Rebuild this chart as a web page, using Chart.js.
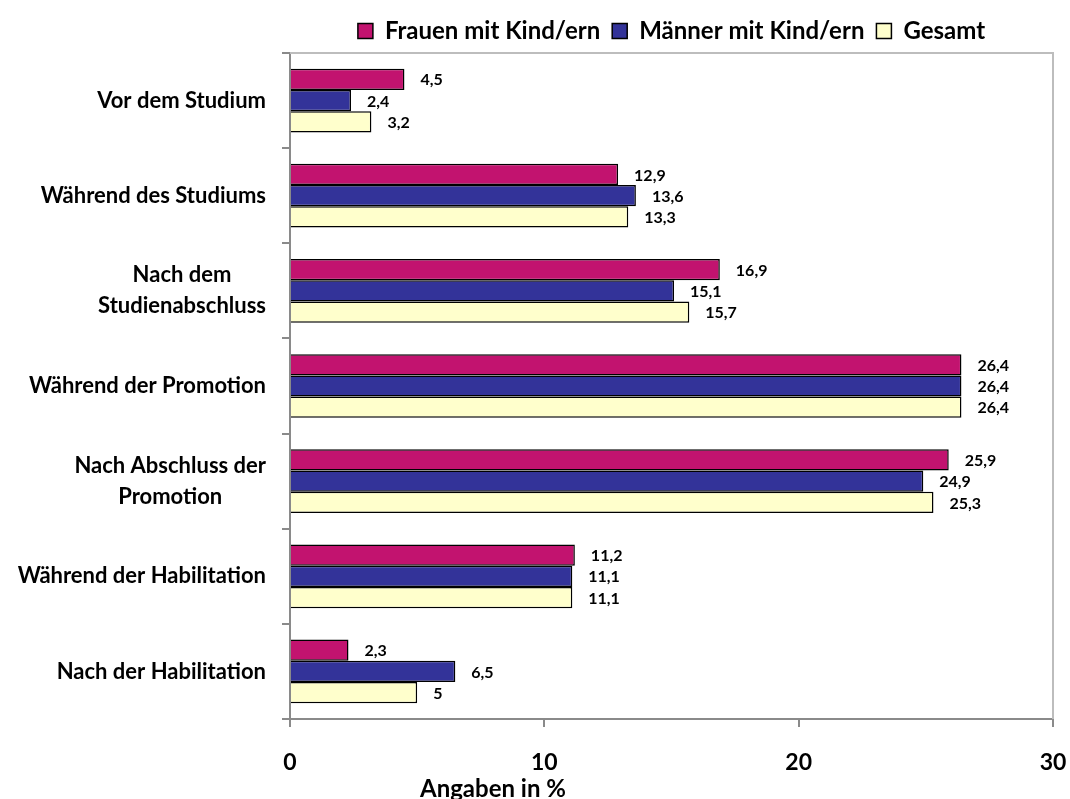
<!DOCTYPE html>
<html>
<head>
<meta charset="utf-8">
<script src="https://cdn.jsdelivr.net/npm/chart.js@4/dist/chart.umd.min.js"></script>
<style>
  html, body { margin: 0; padding: 0; background: #fff; }
  #wrap { width: 1070px; height: 799px; }
</style>
</head>
<body>
<div id="wrap"><canvas id="chart" width="1070" height="799"></canvas></div>
<script>
// categories (multi-line ones as arrays)
const categories = [
    'Vor dem Studium',
    'Während des Studiums',
    ['Nach dem', 'Studienabschluss'],
    'Während der Promotion',
    ['Nach Abschluss der', 'Promotion'],
    'Während der Habilitation',
    'Nach der Habilitation'
];
const seriesNames = ['Frauen mit Kind/ern', 'Männer mit Kind/ern', 'Gesamt'];
const frauen = [4.5, 12.9, 16.9, 26.4, 25.9, 11.2, 2.3];
const maenner = [2.4, 13.6, 15.1, 26.4, 24.9, 11.1, 6.5];
const gesamt = [3.2, 13.3, 15.7, 26.4, 25.3, 11.1, 5];
const xTicks = [0, 10, 20, 30];
const axisTitle = 'Angaben in %';

const colors = ['#C2136F', '#333399', '#FFFFCC'];
const FONT = 'Lato, "Open Sans", sans-serif';
const axisGrey = '#8a8a8a';

// values next to the bars
const valueLabels = {
    id: 'valueLabels',
    afterDatasetsDraw(chart) {
        const ctx = chart.ctx;
        ctx.save();
        ctx.font = 'bold 16px ' + FONT;
        ctx.fillStyle = '#000';
        ctx.textAlign = 'left';
        ctx.textBaseline = 'middle';
        chart.data.datasets.forEach((ds, i) => {
            const meta = chart.getDatasetMeta(i);
            meta.data.forEach((bar, j) => {
                const txt = String(ds.data[j]).replace('.', ',');
                ctx.fillText(txt, bar.x + 16, bar.y + 1);
            });
        });
        ctx.restore();
    }
};

// category labels: block right aligned, lines centred inside the block
const categoryLabels = {
    id: 'categoryLabels',
    afterDraw(chart) {
        const ctx = chart.ctx;
        const y = chart.scales.y;
        const rightEdge = chart.chartArea.left - 24;
        const lineH = 31;
        ctx.save();
        ctx.font = 'bold 22px ' + FONT;
        ctx.fillStyle = '#000';
        ctx.textAlign = 'center';
        ctx.textBaseline = 'middle';
        chart.data.labels.forEach((lab, i) => {
            const lines = Array.isArray(lab) ? lab : [lab];
            const w = Math.max(...lines.map(l => ctx.measureText(l).width));
            const cx = rightEdge - w / 2;
            const cy = y.getPixelForValue(i);
            lines.forEach((l, k) => {
                ctx.fillText(l, cx, cy + (k - (lines.length - 1) / 2) * lineH);
            });
        });
        ctx.restore();
    }
};

// plot frame (top + right) and the axis title
const frame = {
    id: 'frame',
    afterDraw(chart) {
        const ctx = chart.ctx;
        const a = chart.chartArea;
        ctx.save();
        ctx.strokeStyle = '#bdbdbd';
        ctx.lineWidth = 2;
        ctx.beginPath();
        ctx.moveTo(a.left, a.top);
        ctx.lineTo(a.right, a.top);
        ctx.lineTo(a.right, a.bottom);
        ctx.stroke();
        ctx.font = 'bold 24px ' + FONT;
        ctx.fillStyle = '#000';
        ctx.textAlign = 'center';
        ctx.textBaseline = 'middle';
        ctx.fillText(axisTitle, a.left + 203, a.bottom + 70);
        ctx.restore();
    }
};

new Chart(document.getElementById('chart'), {
    type: 'bar',
    data: {
        labels: categories,
        datasets: [
            { label: seriesNames[0], data: frauen, backgroundColor: colors[0] },
            { label: seriesNames[1], data: maenner, backgroundColor: colors[1] },
            { label: seriesNames[2], data: gesamt, backgroundColor: colors[2] }
        ].map(d => Object.assign(d, {
            borderColor: '#000',
            borderWidth: 1.5,
            barPercentage: 1,
            categoryPercentage: 0.67
        }))
    },
    options: {
        indexAxis: 'y',
        responsive: false,
        animation: false,
        layout: { padding: { top: 7, right: 17, bottom: 0, left: 0 } },
        plugins: {
            legend: {
                position: 'top',
                fullSize: false,
                labels: {
                    font: { family: FONT, size: 24, weight: 'bold' },
                    color: '#000',
                    boxWidth: 15,
                    boxHeight: 15,
                    padding: 12
                }
            },
            tooltip: { enabled: false }
        },
        scales: {
            x: {
                min: 0,
                max: 30,
                afterBuildTicks: s => { s.ticks = xTicks.map(v => ({ value: v })); },
                afterFit: s => { s.height = 80; s.paddingLeft = 0; s.paddingRight = 0; },
                ticks: {
                    color: '#000',
                    font: { family: FONT, size: 23, weight: 'bold' },
                    padding: 22,
                    maxRotation: 0
                },
                grid: {
                    drawOnChartArea: false,
                    drawTicks: true,
                    tickLength: 8,
                    color: axisGrey,
                    lineWidth: 2
                },
                border: { color: axisGrey, width: 2 }
            },
            y: {
                afterFit: s => { s.width = 290; },
                ticks: { display: false },
                grid: {
                    offset: true,
                    drawOnChartArea: false,
                    drawTicks: true,
                    tickLength: 8,
                    color: axisGrey,
                    lineWidth: 2
                },
                border: { color: axisGrey, width: 2 }
            }
        }
    },
    plugins: [valueLabels, categoryLabels, frame]
});
</script>
</body>
</html>
